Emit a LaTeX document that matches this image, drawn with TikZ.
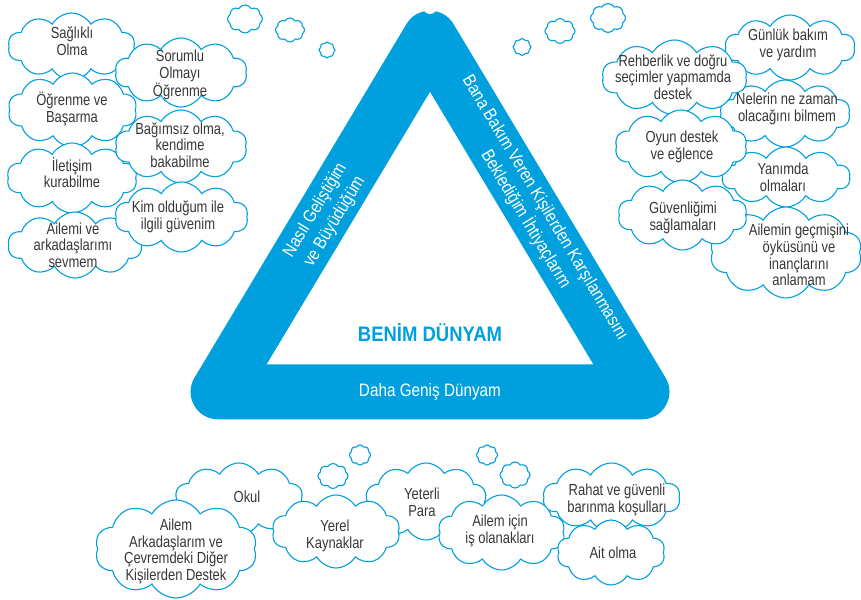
\documentclass[tikz,border=0pt]{standalone}
\usepackage{fontspec}
\setmainfont{Liberation Sans}
\newfontfamily\cloudfont[FakeStretch=0.81]{Liberation Sans}
\newfontfamily\sidefont[FakeStretch=0.85]{Liberation Sans}
\newfontfamily\titlefont[FakeStretch=0.88]{Liberation Sans}
\usetikzlibrary{shapes.symbols}
\definecolor{tri}{RGB}{0,160,222}
\definecolor{txt}{RGB}{55,55,55}
\begin{document}
\begin{tikzpicture}[x=1pt,y=-1pt,
  bigcloud/.style={cloud, cloud puffs=10, cloud puff arc=120, cloud ignores aspect, draw=tri, line width=1.1pt, fill=white, inner sep=0pt},
  smallcloud/.style={cloud, cloud puffs=8, cloud puff arc=120, cloud ignores aspect, draw=tri, line width=1.1pt, fill=white, inner sep=0pt},
  cloudtxt/.style={align=center, text=txt, inner sep=0pt, font=\cloudfont\fontsize{16}{16.7}\selectfont},
  sidetxt/.style={align=center, text=white, inner sep=0pt, font=\sidefont\fontsize{18}{22.5}\selectfont},
  titletxt/.style={text=tri, inner sep=0pt, font=\titlefont\bfseries\fontsize{21}{24}\selectfont},
  band/.style={draw=tri, line width=55pt, line join=round}
]
\useasboundingbox (0,0) rectangle (861,599);
\fill[white] (0,0) rectangle (861,599);

% triangle band
\coordinate (A) at (430,38.3);
\coordinate (B) at (218.1,391.8);
\coordinate (C) at (641.9,391.8);
\draw[band] (A) -- (B) -- (C) -- cycle;
\fill[white] (430,7) circle (7);

\node[sidetxt, rotate=59] (left) at (325,216) {Nasıl Geliştiğim\\ve Büyüdüğüm};
\node[sidetxt, rotate=-59] (right) at (535,214) {Bana Bakım Veren Kişilerden Karşılanmasını\\Beklediğim İhtiyaçlarım};
\node[sidetxt] (bottom) at (430,392) {Daha Geniş Dünyam};
\node[titletxt] (title) at (430,333) {BENİM DÜNYAM};

% small clouds
\node[smallcloud, minimum width=35pt, minimum height=28pt] (s1) at (245,19) {};
\node[smallcloud, minimum width=29pt, minimum height=24pt] (s2) at (290,30) {};
\node[smallcloud, minimum width=16pt, minimum height=16pt] (s3) at (327,50) {};
\node[smallcloud, minimum width=18pt, minimum height=17pt] (s4) at (522,47) {};
\node[smallcloud, minimum width=30pt, minimum height=25pt] (s5) at (560,31) {};
\node[smallcloud, minimum width=35pt, minimum height=29pt] (s6) at (608,18) {};
\node[smallcloud, minimum width=30pt, minimum height=25pt] (s7) at (333,476) {};
\node[smallcloud, minimum width=21pt, minimum height=20pt] (s8) at (360,455) {};
\node[smallcloud, minimum width=21pt, minimum height=20pt] (s9) at (487,455) {};
\node[smallcloud, minimum width=30pt, minimum height=26pt] (s10) at (515,475) {};

% left clouds
\node[bigcloud, minimum width=127pt, minimum height=67pt] (cL1) at (71.5,46.5) {};
\node[bigcloud, minimum width=129pt, minimum height=74pt] (cL3) at (72.5,110) {};
\node[bigcloud, minimum width=130pt, minimum height=70pt] (cL5) at (72,178) {};
\node[bigcloud, minimum width=134pt, minimum height=66pt] (cL7) at (75,245) {};
\node[bigcloud, minimum width=132pt, minimum height=69pt] (cL2) at (181,72.5) {};
\node[bigcloud, minimum width=132pt, minimum height=73pt] (cL4) at (181,146.5) {};
\node[bigcloud, minimum width=133pt, minimum height=70pt] (cL6) at (181.5,217) {};
\node[cloudtxt] (tL1) at (72,41) {Sağlıklı\\Olma};
\node[cloudtxt] (tL2) at (180,75) {Sorumlu\\Olmayı\\Öğrenme};
\node[cloudtxt] (tL3) at (72,109) {Öğrenme ve\\Başarma};
\node[cloudtxt] (tL4) at (180,145) {Bağımsız olma,\\kendime\\bakabilme};
\node[cloudtxt] (tL5) at (72,172.5) {İletişim\\kurabilme};
\node[cloudtxt] (tL6) at (178,217) {Kim olduğum ile\\ilgili güvenim};
\node[cloudtxt] (tL7) at (73,245) {Ailemi ve\\arkadaşlarımı\\sevmem};

% right clouds
\node[bigcloud, minimum width=130pt, minimum height=65pt] (cR1) at (790,47.5) {};
\node[bigcloud, minimum width=130pt, minimum height=67pt] (cR3) at (785,113.5) {};
\node[bigcloud, minimum width=128pt, minimum height=60pt] (cR5) at (786,177) {};
\node[bigcloud, minimum width=152pt, minimum height=91pt] (cR7) at (786,252.5) {};
\node[bigcloud, minimum width=145pt, minimum height=75pt] (cR2) at (674.5,77.5) {};
\node[bigcloud, minimum width=132pt, minimum height=73pt] (cR4) at (681,146.5) {};
\node[bigcloud, minimum width=129pt, minimum height=70pt] (cR6) at (682.5,215) {};
\node[cloudtxt] (tR1) at (788,45) {Günlük bakım\\ve yardım};
\node[cloudtxt] (tR2) at (673,77) {Rehberlik ve doğru\\seçimler yapmamda\\destek};
\node[cloudtxt] (tR3) at (787,109) {Nelerin ne zaman\\olacağını bilmem};
\node[cloudtxt] (tR4) at (682,147) {Oyun destek\\ve eğlence};
\node[cloudtxt] (tR5) at (783,177) {Yanımda\\olmaları};
\node[cloudtxt] (tR6) at (683,218) {Güvenliğimi\\sağlamaları};
\node[cloudtxt] (tR7) at (799,255) {Ailemin geçmişini\\öyküsünü ve\\inançlarını\\anlamam};

% bottom clouds
\node[bigcloud, minimum width=128pt, minimum height=72pt] (cB1) at (239,499) {};
\node[bigcloud, minimum width=122pt, minimum height=77pt] (cB4) at (426,501.5) {};
\node[bigcloud, minimum width=137pt, minimum height=69pt] (cB6) at (611.5,497.5) {};
\node[bigcloud, minimum width=162pt, minimum height=98pt] (cB2) at (176,549) {};
\node[bigcloud, minimum width=128pt, minimum height=73pt] (cB3) at (336,531.5) {};
\node[bigcloud, minimum width=127pt, minimum height=75pt] (cB5) at (501.5,532.5) {};
\node[bigcloud, minimum width=108pt, minimum height=65pt] (cB7) at (611,552.5) {};
\node[cloudtxt] (tB1) at (247,497) {Okul};
\node[cloudtxt] (tB2) at (176,551.5) {Ailem\\Arkadaşlarım ve\\Çevremdeki Diğer\\Kişilerden Destek};
\node[cloudtxt] (tB3) at (335,536) {Yerel\\Kaynaklar};
\node[cloudtxt] (tB4) at (422,502) {Yeterli\\Para};
\node[cloudtxt] (tB5) at (500,531) {Ailem için\\iş olanakları};
\node[cloudtxt] (tB6) at (617,500) {Rahat ve güvenli\\barınma koşulları};
\node[cloudtxt] (tB7) at (613,553) {Ait olma};
\end{tikzpicture}
\end{document}
